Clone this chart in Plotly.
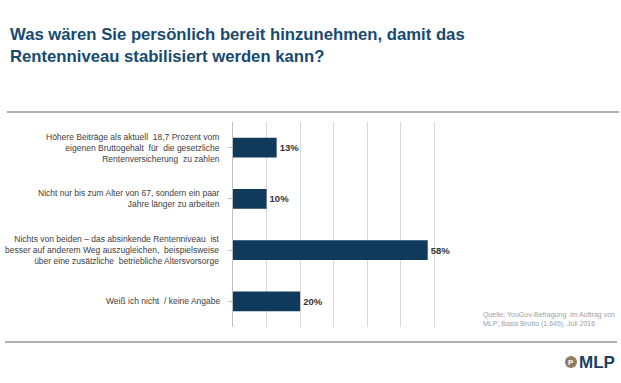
import plotly.graph_objects as go

categories = [
    "Höhere Beiträge als aktuell  18,7 Prozent vom<br>eigenen Bruttogehalt  für  die gesetzliche<br>Rentenversicherung  zu zahlen",
    "Nicht nur bis zum Alter von 67, sondern ein paar<br>Jahre länger zu arbeiten",
    "Nichts von beiden – das absinkende Rentenniveau  ist<br>besser auf anderem Weg auszugleichen,  beispielsweise<br>über eine zusätzliche  betriebliche Altersvorsorge",
    "Weiß ich nicht  / keine Angabe",
]
values = [13, 10, 58, 20]
x_ticks = [0, 10, 20, 30, 40, 50, 60, 70]

title_text = "Was wären Sie persönlich bereit hinzunehmen, damit das<br>Rentenniveau stabilisiert werden kann?"
source_text = "Quelle: YouGov-Befragung  im Auftrag von<br>MLP; Basis Brutto (1.645), Juli 2016"

W, H = 621, 383
L, R, T, B = 233, 468, 122, 327

def px_x(px):
    return (px - L) / (R - L)

def px_y(py):
    return (B - py) / (B - T)

navy = "#0F3A5C"

fig = go.Figure()
fig.add_trace(go.Bar(
    x=values, y=list(range(len(categories))), orientation="h",
    marker=dict(color=navy, line=dict(width=0)),
    width=0.39,
    text=[f"<b>{v}%</b>" for v in values],
    textposition="outside",
    textfont=dict(family="Arial, Liberation Sans", size=9.5, color="#333333"),
    cliponaxis=False,
    hoverinfo="skip",
))

annotations = []
for i, c in enumerate(categories):
    annotations.append(dict(
        x=0, xref="x", y=i, yref="y", text=c, showarrow=False,
        xanchor="right", yanchor="middle", align="right", xshift=-11,
        font=dict(family="Arial, Liberation Sans", size=8.5, color="#404040"),
    ))

annotations.append(dict(
    x=px_x(8), xref="paper", y=px_y(23), yref="paper", text=f"<b>{title_text}</b>",
    showarrow=False, xanchor="left", yanchor="top", align="left",
    font=dict(family="Arial, Liberation Sans", size=16.7, color="#174A6E"),
))
annotations.append(dict(
    x=px_x(481), xref="paper", y=px_y(309), yref="paper", text=source_text,
    showarrow=False, xanchor="left", yanchor="top", align="left",
    font=dict(family="Arial, Liberation Sans", size=7, color="#A0A0A0"),
))
annotations.append(dict(
    x=px_x(577), xref="paper", y=px_y(362), yref="paper", text="<b>MLP</b>",
    showarrow=False, xanchor="left", yanchor="middle",
    font=dict(family="Arial, Liberation Sans", size=17, color="#1B3F63"),
))
annotations.append(dict(
    x=px_x(571), xref="paper", y=px_y(362), yref="paper", text="<b>P</b>",
    showarrow=False, xanchor="center", yanchor="middle",
    font=dict(family="Arial, Liberation Sans", size=8, color="white"),
))

shapes = [
    dict(type="line", xref="paper", yref="paper", x0=px_x(7), x1=px_x(619), y0=px_y(112), y1=px_y(112),
         line=dict(color="#B0B0B0", width=2)),
    dict(type="line", xref="paper", yref="paper", x0=px_x(5), x1=px_x(617), y0=px_y(342), y1=px_y(342),
         line=dict(color="#B0B0B0", width=2)),
    dict(type="circle", xref="paper", yref="paper", x0=px_x(565), x1=px_x(577), y0=px_y(356), y1=px_y(368),
         fillcolor="#8E7F63", line=dict(width=0)),
]

fig.update_layout(
    width=W, height=H,
    margin=dict(l=L, r=W - R, t=T, b=H - B, pad=0),
    paper_bgcolor="white", plot_bgcolor="white",
    showlegend=False,
    bargap=0.61,
    xaxis=dict(range=[0, 70], tickvals=x_ticks, showticklabels=False, showgrid=True,
               gridcolor="#D9D9D9", gridwidth=1, zeroline=False, showline=False, fixedrange=True),
    yaxis=dict(range=[3.5, -0.5], tickvals=[0, 1, 2, 3], showticklabels=False,
               tickson="boundaries", ticks="outside", ticklen=4, tickcolor="#BFBFBF",
               showline=True, linecolor="#BFBFBF", linewidth=1, showgrid=False, zeroline=False,
               type="linear", fixedrange=True),
    annotations=annotations,
    shapes=shapes,
)

fig.write_html("out.html", config={"displayModeBar": False},
               post_script="document.body.style.margin='0px';document.body.style.overflow='hidden';")
